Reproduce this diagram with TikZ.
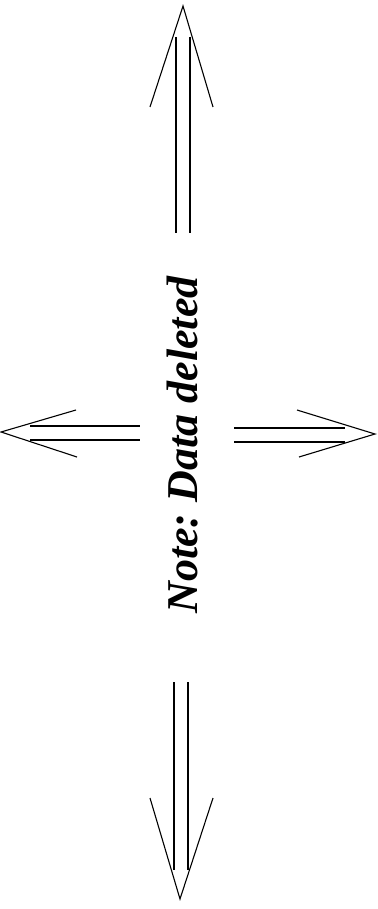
\documentclass[tikz,border=0pt]{standalone}
\usepackage{fontspec}
\setmainfont{Liberation Serif}
\usetikzlibrary{positioning}
\frenchspacing

\begin{document}
\begin{tikzpicture}[
  x=1pt, y=-1pt,
  shaft/.style={draw, line width=1.1pt},
  barb/.style={draw, line width=1.1pt, line join=miter},
  note/.style={rotate=90, anchor=base, inner sep=0pt,
               font=\fontsize{44}{50}\selectfont\bfseries\itshape}
]
\useasboundingbox (0,0) rectangle (377,909);

\node[note] (note) at (197,445) {Note: Data deleted};

% up
\coordinate (uptip) at (183,6);
\draw[shaft] (176,37) -- (176,233);
\draw[shaft] (190,37) -- (190,233);
\draw[barb] (150,107) -- (uptip) -- (213,107);

% left
\coordinate (lefttip) at (1,432);
\draw[shaft] (30,426) -- (140,426);
\draw[shaft] (30,440) -- (140,440);
\draw[barb] (76,410) -- (lefttip) -- (77,457);

% right
\coordinate (righttip) at (375,434);
\draw[shaft] (234,428) -- (345,428);
\draw[shaft] (234,442) -- (345,442);
\draw[barb] (297,410) -- (righttip) -- (299,457);

% down
\coordinate (downtip) at (180,899);
\draw[shaft] (174,682) -- (174,870);
\draw[shaft] (188,682) -- (188,870);
\draw[barb] (150,798) -- (downtip) -- (213,798);
\end{tikzpicture}
\end{document}
